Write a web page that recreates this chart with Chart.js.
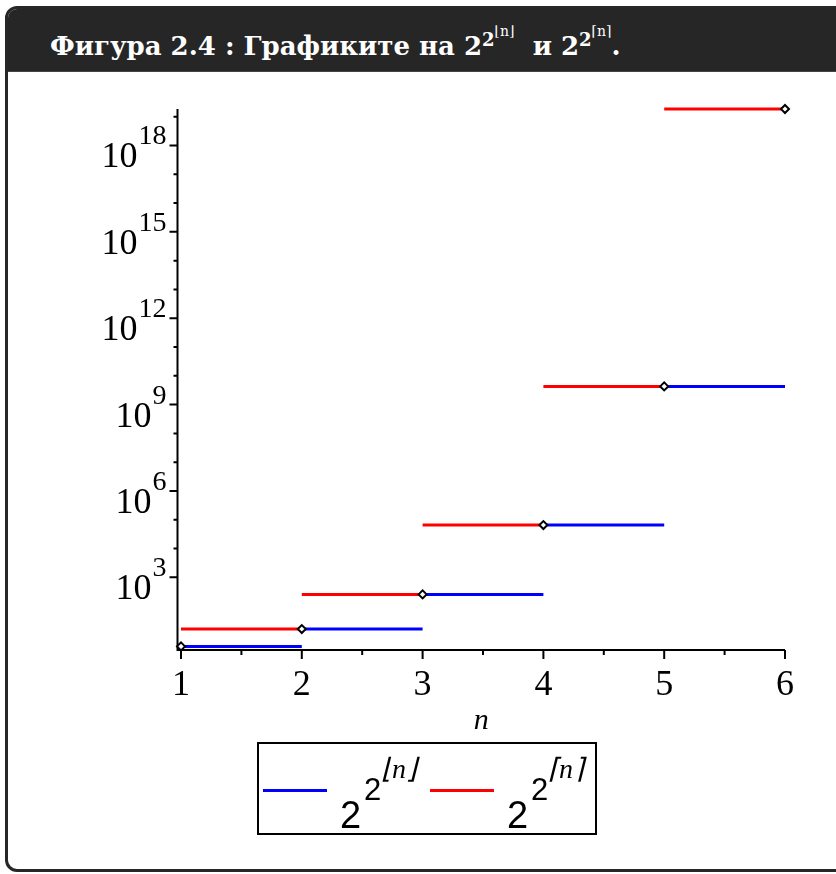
<!DOCTYPE html>
<html>
<head>
<meta charset="utf-8">
<script src="https://cdn.jsdelivr.net/npm/chart.js@4.4.0/dist/chart.umd.min.js"></script>
<style>
    body { margin: 0; width: 836px; height: 874px; overflow: hidden; background: #fff; position: relative; }
    #frame {
        position: absolute; left: 5px; top: 6px; width: 900px; height: 860px;
        border: 3px solid #272727; border-radius: 12px; background: #fff; overflow: hidden;
    }
    #title {
        position: absolute; left: 0; top: 0; right: 0; height: 62px;
        background: #262626; border-bottom: 1px solid #444; color: #fff;
        font: bold 26px "DejaVu Serif", serif;
    }
    #title .txt { position: absolute; left: 42px; top: 24px; white-space: nowrap; line-height: 1; }
    .s1 { font-size: 18px; position: relative; top: -9px; }
    .s2 { font-size: 14px; font-weight: normal; position: relative; top: -10px; }
    #plot { position: absolute; left: 0; top: 0; }
    #legend {
        position: absolute; left: 257px; top: 742px; width: 336px; height: 89px;
        border: 2px solid #000; background: #fff;
    }
    .swatch { position: absolute; height: 3px; width: 64px; }
    .pc { position: absolute; white-space: nowrap; line-height: 1; color: #000; }
    .b { font: 38px "Liberation Sans", sans-serif; }
    .e1 { font: 31px "Liberation Sans", sans-serif; }
    .e2 { font: italic 28px "Liberation Serif", serif; }
</style>
</head>
<body>
<div id="frame">
    <div id="title"><span class="txt">Фигура 2.4 : Графиките на 2<span class="s1">2<span class="s2">⌊n⌋</span></span>&nbsp; и 2<span class="s1">2<span class="s2">⌈n⌉</span></span>.</span></div>
</div>
<canvas id="plot" width="836" height="874"></canvas>
<div id="legend"></div>
<script>
// intervals [n, n+1) and the value on each
const nStarts = [1, 2, 3, 4, 5];
const floorValues = [4, 16, 256, 65536, 4294967296];
const ceilValues = [16, 256, 65536, 4294967296, 18446744073709551616];

// diamond markers at the integers
const markerN = [1, 2, 3, 4, 5, 6];
const markerValues = [4, 16, 256, 65536, 4294967296, 18446744073709551616];

const seriesNames = ['⌊n⌋', '⌈n⌉'];
const seriesColors = ['#0000ff', '#ff0000'];

const xTicks = [1, 2, 3, 4, 5, 6];
const xMinorTicks = [1.5, 2.5, 3.5, 4.5, 5.5];
const yLabelExps = [3, 6, 9, 12, 15, 18];
const yMinorExps = [4, 5, 7, 8, 10, 11, 13, 14, 16, 17, 19];

function steps(values) {
    const pts = [];
    values.forEach((v, i) => {
        pts.push({ x: nStarts[i], y: v }, { x: nStarts[i] + 1, y: v }, { x: nStarts[i] + 1, y: null });
    });
    return pts;
}

// Maple style axes: ticks outside, 10^k labels with superscripts
const mapleAxes = {
    id: 'mapleAxes',
    beforeDatasetsDraw(chart) {
        const ctx = chart.ctx;
        const area = chart.chartArea;
        const xs = chart.scales.x;
        const ys = chart.scales.y;
        ctx.save();
        ctx.strokeStyle = '#000';
        ctx.fillStyle = '#000';
        ctx.lineWidth = 2;

        ctx.beginPath();
        ctx.moveTo(area.left, area.top);
        ctx.lineTo(area.left, area.bottom);
        ctx.lineTo(area.right, area.bottom);
        ctx.stroke();

        ctx.beginPath();
        yLabelExps.forEach(e => {
            const y = ys.getPixelForValue(Math.pow(10, e));
            ctx.moveTo(area.left - 8, y);
            ctx.lineTo(area.left, y);
        });
        yMinorExps.forEach(e => {
            const y = ys.getPixelForValue(Math.pow(10, e));
            ctx.moveTo(area.left - 4, y);
            ctx.lineTo(area.left, y);
        });
        xTicks.forEach(v => {
            const x = xs.getPixelForValue(v);
            ctx.moveTo(x, area.bottom);
            ctx.lineTo(x, area.bottom + 9);
        });
        xMinorTicks.forEach(v => {
            const x = xs.getPixelForValue(v);
            ctx.moveTo(x, area.bottom);
            ctx.lineTo(x, area.bottom + 5);
        });
        ctx.stroke();

        ctx.textAlign = 'right';
        ctx.textBaseline = 'alphabetic';
        yLabelExps.forEach(e => {
            const y = ys.getPixelForValue(Math.pow(10, e));
            const right = area.left - 11;
            ctx.font = '28px "Liberation Serif"';
            const ew = ctx.measureText(String(e)).width;
            ctx.fillText(String(e), right, y - 1);
            ctx.font = '36px "Liberation Serif"';
            ctx.fillText('10', right - ew - 1, y + 22);
        });

        ctx.textAlign = 'center';
        ctx.font = '36px "Liberation Serif"';
        xTicks.forEach(v => {
            ctx.fillText(String(v), xs.getPixelForValue(v), area.bottom + 45);
        });

        ctx.font = 'italic 30px "Liberation Serif"';
        ctx.fillText('n', (area.left + area.right) / 2, area.bottom + 79);
        ctx.restore();
    }
};

const ctx = document.getElementById('plot').getContext('2d');
const chart = new Chart(ctx, {
    type: 'line',
    data: {
        datasets: [
            {
                label: 'markers',
                data: markerN.map((n, i) => ({ x: n, y: markerValues[i] })),
                showLine: false,
                pointStyle: 'rectRot',
                pointRadius: 4,
                pointBorderWidth: 2,
                pointBackgroundColor: '#fff',
                pointBorderColor: '#000',
                clip: false,
                order: 0
            },
            {
                label: seriesNames[0],
                data: steps(floorValues),
                borderColor: seriesColors[0],
                borderWidth: 3,
                pointRadius: 0,
                spanGaps: false,
                clip: false,
                order: 1
            },
            {
                label: seriesNames[1],
                data: steps(ceilValues),
                borderColor: seriesColors[1],
                borderWidth: 3,
                pointRadius: 0,
                spanGaps: false,
                clip: false,
                order: 2
            }
        ]
    },
    options: {
        responsive: false,
        animation: false,
        events: [],
        layout: { padding: { left: 177.5, right: 51, top: 109, bottom: 224 } },
        scales: {
            x: { type: 'linear', min: 0.971, max: 6, display: false },
            y: { type: 'logarithmic', min: 3, max: 1.85e19, display: false }
        },
        plugins: {
            legend: { display: false },
            tooltip: { enabled: false }
        }
    },
    plugins: [mapleAxes]
});

// legend built from the two step series
const legend = document.getElementById('legend');
const itemLeft = [4, 171];
function piece(cls, text, left, top) {
    const el = document.createElement('div');
    el.className = 'pc ' + cls;
    el.textContent = text;
    el.style.left = left + 'px';
    el.style.top = top + 'px';
    legend.appendChild(el);
}
[1, 2].forEach((di, k) => {
    const ds = chart.data.datasets[di];
    const sw = document.createElement('div');
    sw.className = 'swatch';
    sw.style.left = itemLeft[k] + 'px';
    sw.style.top = '45px';
    sw.style.background = ds.borderColor;
    legend.appendChild(sw);
    const x0 = itemLeft[k];
    piece('b', '2', x0 + 77, 50);
    piece('e1', '2', x0 + 101, 28);
    piece('e2', ds.label, x0 + 118, 8);
});
</script>
</body>
</html>
